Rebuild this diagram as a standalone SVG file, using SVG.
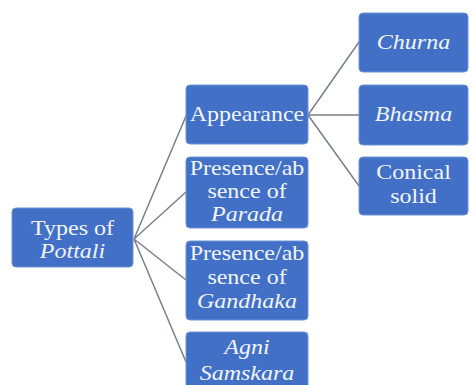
<svg xmlns="http://www.w3.org/2000/svg" width="472" height="385" viewBox="0 0 472 385">
<style>
.box{fill:#4170c6;stroke:#6f93d6;stroke-width:1}
.t{font-family:'Liberation Serif','Times New Roman',Tinos,'Noto Serif','DejaVu Serif',FreeSerif,Times,serif;font-size:20px;fill:#f2f5fc;text-anchor:middle}
.i{font-style:italic}
.c{stroke:#7a7f88;stroke-width:1.5;fill:none}
</style>
<rect width="472" height="385" fill="#ffffff"/>
<g id="connectors">
<path class="c" d="M134 239 L186 116 M134 239 L186 192 M134 239 L186 280 M134 239 L186 362"/>
<path class="c" d="M308 115 L359 42 M308 115 L359 115 M308 115 L359 186"/>
</g>
<g id="root">
<rect class="box" x="12" y="208" width="121" height="59" rx="4"/>
<text class="t" transform="translate(72.5,0) scale(1.2,1)"><tspan x="0" y="235">Types of</tspan><tspan x="0" y="258" class="i">Pottali</tspan></text>
</g>
<g id="appearance">
<rect class="box" x="186" y="85" width="122" height="59" rx="4"/>
<text class="t" transform="translate(247,0) scale(1.2,1)"><tspan x="0" y="121">Appearance</tspan></text>
</g>
<g id="parada">
<rect class="box" x="186" y="157" width="122" height="71" rx="4"/>
<text class="t" transform="translate(247,0) scale(1.2,1)"><tspan x="0" y="175">Presence/ab</tspan><tspan x="0" y="198">sence of</tspan><tspan x="0" y="221" class="i">Parada</tspan></text>
</g>
<g id="gandhaka">
<rect class="box" x="186" y="241" width="122" height="79" rx="4"/>
<text class="t" transform="translate(247,0) scale(1.2,1)"><tspan x="0" y="260">Presence/ab</tspan><tspan x="0" y="284">sence of</tspan><tspan x="0" y="308" class="i">Gandhaka</tspan></text>
</g>
<g id="agni">
<rect class="box" x="186" y="332" width="122" height="62" rx="4"/>
<text class="t i" transform="translate(247,0) scale(1.2,1)"><tspan x="0" y="354">Agni</tspan><tspan x="0" y="380">Samskara</tspan></text>
</g>
<g id="churna">
<rect class="box" x="359" y="13" width="109" height="59" rx="4"/>
<text class="t i" transform="translate(413.5,0) scale(1.2,1)"><tspan x="0" y="49">Churna</tspan></text>
</g>
<g id="bhasma">
<rect class="box" x="359" y="85" width="109" height="60" rx="4"/>
<text class="t i" transform="translate(413.5,0) scale(1.2,1)"><tspan x="0" y="121">Bhasma</tspan></text>
</g>
<g id="conical">
<rect class="box" x="359" y="157" width="109" height="58" rx="4"/>
<text class="t" transform="translate(413.5,0) scale(1.2,1)"><tspan x="0" y="179">Conical</tspan><tspan x="0" y="203">solid</tspan></text>
</g>
</svg>
